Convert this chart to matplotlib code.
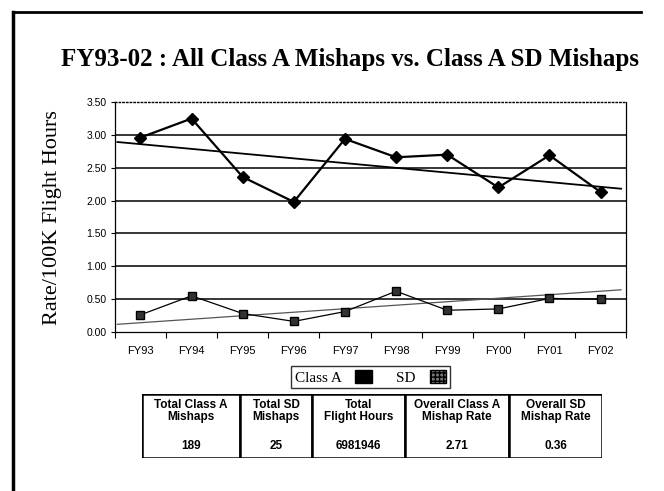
import numpy as np
import matplotlib.pyplot as plt
from matplotlib.patches import Rectangle, Patch
from matplotlib.lines import Line2D

years = ['FY93', 'FY94', 'FY95', 'FY96', 'FY97', 'FY98', 'FY99', 'FY00', 'FY01', 'FY02']
class_a = [2.96, 3.25, 2.36, 1.98, 2.94, 2.66, 2.70, 2.20, 2.69, 2.13]
sd = [0.26, 0.55, 0.28, 0.16, 0.31, 0.62, 0.33, 0.35, 0.51, 0.50]

# trendline values read at FY93 and FY02
class_a_trend = [2.86, 2.21]
sd_trend = [0.14, 0.62]

table_headers = ['Total Class A\nMishaps', 'Total SD\nMishaps', 'Total\nFlight Hours',
                 'Overall Class A\nMishap Rate', 'Overall SD\nMishap Rate']
table_values = ['189', '25', '6981946', '2.71', '0.36']

serif = ['Liberation Serif', 'DejaVu Serif']
sans = ['Liberation Sans', 'DejaVu Sans']

fig = plt.figure(figsize=(6.64, 4.91), dpi=100)

# outer frame (left and top edges only)
fig.add_artist(Line2D([0.019, 0.019], [0.0, 0.976], color='black', lw=2.5,
                      transform=fig.transFigure))
fig.add_artist(Line2D([0.019, 0.965], [0.976, 0.976], color='black', lw=2.0,
                      transform=fig.transFigure))

fig.text(0.527, 0.878, 'FY93-02 : All Class A Mishaps vs. Class A SD Mishaps',
         ha='center', va='center', fontsize=18, fontweight='bold', family=serif)

ax = fig.add_axes([0.173, 0.324, 0.770, 0.468])
x = np.arange(len(years))

# linear trendlines, extended across the plot
xt = np.array([-0.45, 9.4])
for trend, lw, col in [(class_a_trend, 1.3, 'black'), (sd_trend, 0.9, '#555555')]:
    slope = (trend[1] - trend[0]) / (len(years) - 1)
    ax.plot(xt, trend[0] + slope * xt, color=col, lw=lw, zorder=2)

ax.plot(x, class_a, color='black', lw=1.6, marker='D', markersize=6,
        markerfacecolor='black', zorder=4)
ax.plot(x, sd, color='black', lw=0.9, marker='s', markersize=5.5,
        markerfacecolor='#333333', markeredgecolor='black', zorder=4)

ax.set_xlim(-0.5, 9.5)
ax.set_ylim(0, 3.5)
ax.set_yticks(np.arange(0, 3.51, 0.5))
ax.set_yticklabels(['%.2f' % v for v in np.arange(0, 3.51, 0.5)], family=sans, fontsize=7.5)
ax.set_xticks(x)
ax.set_xticklabels(years, family=sans, fontsize=8)
ax.set_xticks(np.arange(-0.5, 10, 1), minor=True)
ax.tick_params(axis='x', which='major', length=0, pad=10)
ax.tick_params(axis='x', which='minor', length=4, direction='out', width=0.8)
ax.tick_params(axis='y', length=3, direction='out', width=0.8, pad=3)

for v in np.arange(0.5, 3.01, 0.5):
    ax.axhline(v, color='black', lw=1.1, zorder=1)
ax.spines['top'].set_linestyle(':')
ax.spines['top'].set_linewidth(1.0)
for s in ['left', 'right', 'bottom']:
    ax.spines[s].set_linewidth(0.9)

ax.set_ylabel('Rate/100K Flight Hours', family=serif, fontsize=16)
ax.yaxis.set_label_coords(-0.103, 0.496)

# legend
handles = [Patch(facecolor='black', edgecolor='black'),
           Patch(facecolor='#777777', edgecolor='black', hatch='++++')]
fig.legend(handles, ['Class A', 'SD'], ncols=2, markerfirst=False,
           loc='center', bbox_to_anchor=(0.558, 0.232), frameon=True,
           fancybox=False, edgecolor='black', prop={'family': serif, 'size': 11},
           handlelength=1.1, handleheight=1.0, columnspacing=1.6,
           borderpad=0.2, handletextpad=0.9, borderaxespad=0)

# summary table
tab = fig.add_axes([0.214, 0.067, 0.693, 0.131])
tab.set_xlim(0, 460)
tab.set_ylim(0, 64)
tab.axis('off')
edges = [0, 98, 170, 263, 367, 460]
for i in range(len(table_headers)):
    x0, x1 = edges[i], edges[i + 1]
    tab.add_patch(Rectangle((x0, 0), x1 - x0, 64, facecolor='white',
                            edgecolor='black', lw=1.8))
    tab.text((x0 + x1) / 2, 47, table_headers[i], ha='center', va='center',
             fontsize=8.5, fontweight='bold', family=sans, linespacing=1.05)
    tab.text((x0 + x1) / 2, 12, table_values[i], ha='center', va='center',
             fontsize=8.5, fontweight='bold', family=sans)

fig.savefig('out.png', dpi=100)
